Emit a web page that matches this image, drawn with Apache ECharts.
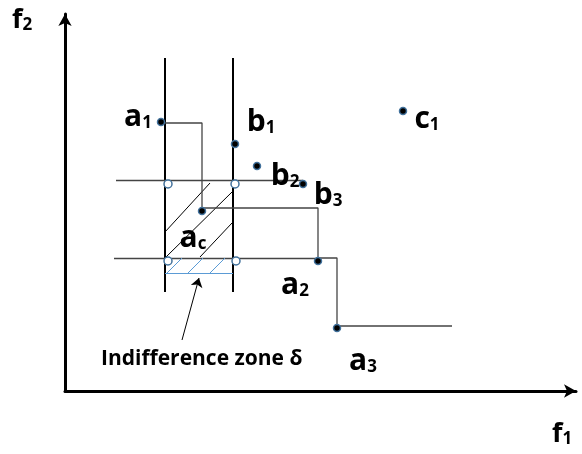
<!DOCTYPE html>
<html>
<head>
<meta charset="utf-8">
<script src="https://cdn.jsdelivr.net/npm/echarts@6/dist/echarts.min.js"></script>
<style>
  html, body { margin: 0; padding: 0; background: #fff; }
  #chart { width: 582px; height: 454px; }
</style>
</head>
<body>
<div id="chart"></div>
<script>
// values (f1 to the right, f2 upwards)
const pointNames = ['a1', 'b1', 'b2', 'b3', 'c1', 'ac', 'a2', 'a3'];
const pointF1 = [96, 170, 192, 238, 338, 137, 253, 272];
const pointF2 = [269, 247, 225, 207, 280, 180, 130, 63];

// corners of the indifference zone (open circles)
const cornerF1 = [103, 170, 103, 171];
const cornerF2 = [207, 207, 130, 130];

// staircase a1 -> ac -> a2 -> a3 -> tail
const stairF1 = [96, 137, 253, 272, 387];
const stairF2 = [268, 183, 133, 65, 65];

// segments [f1 start, f2 start, f1 end, f2 end]
const zoneEdges = [[100, 333, 100, 99], [168, 333, 168, 99]];
const guideLines = [[51, 211, 238, 211], [49, 133, 253, 133]];
const hatchBlack = [[100, 159, 145, 208], [101, 134, 167, 199], [135, 134, 167, 168]];
const hatchBlue = [[102, 118, 117, 133], [123, 118, 138, 133], [145, 118, 160, 133], [100, 118, 168, 118]];
const pointer = [[117, 51, 134, 113]];

// label placement (px offset of label from its point)
const labelOffset = {
  a1: [-23, -6], b1: [26, -23], b2: [28, 9], b3: [25, 10],
  c1: [24, 7], ac: [-9, 26], a2: [-23, 23], a3: [26, 32]
};

const FONT = '"Open Sans", Lato, sans-serif';

function toLines(segs) {
  return segs.map(s => ({ coords: [[s[0], s[1]], [s[2], s[3]]] }));
}

function labelText(name) {
  return '{m|' + name[0] + '}{s|' + name.slice(1) + '}';
}

let myChart = echarts.init(document.getElementById('chart'));

let axisRich = {
  m: { fontSize: 27, fontWeight: 'bold', fontFamily: FONT, color: '#000', lineHeight: 28, verticalAlign: 'bottom' },
  s: { fontSize: 17, fontWeight: 'bold', fontFamily: FONT, color: '#000', lineHeight: 14, verticalAlign: 'bottom' }
};

let option = {
  animation: false,
  grid: { left: 65, right: 6, top: 14, bottom: 63 },
  xAxis: {
    type: 'value', min: 0, max: 511,
    axisLine: { show: true, onZero: false, symbol: ['none', 'arrow'], symbolSize: [10, 12],
      lineStyle: { color: '#000', width: 3 } },
    axisTick: { show: false }, axisLabel: { show: false }, splitLine: { show: false }
  },
  yAxis: {
    type: 'value', min: 0, max: 377,
    axisLine: { show: true, onZero: false, symbol: ['none', 'arrow'], symbolSize: [10, 12],
      lineStyle: { color: '#000', width: 3 } },
    axisTick: { show: false }, axisLabel: { show: false }, splitLine: { show: false }
  },
  graphic: [
    { type: 'text', left: 12, top: 7, style: { rich: axisRich, text: '{m|f}{s|2}' } },
    { type: 'text', left: 552, top: 421, style: { rich: axisRich, text: '{m|f}{s|1}' } },
    {
      type: 'text', left: 101, top: 349,
      style: { text: 'Indifference zone δ', fontSize: 21, fontWeight: 'bold', fontFamily: FONT, fill: '#000' }
    }
  ],
  series: [
    {
      type: 'lines', coordinateSystem: 'cartesian2d', silent: true, z: 2,
      lineStyle: { color: '#000', width: 2, opacity: 1 },
      data: toLines(zoneEdges)
    },
    {
      type: 'lines', coordinateSystem: 'cartesian2d', silent: true, z: 2,
      lineStyle: { color: '#444', width: 1.3, opacity: 1 },
      data: toLines(guideLines)
    },
    {
      type: 'line', step: 'end', silent: true, z: 2, symbol: 'none',
      lineStyle: { color: '#444', width: 1.3 },
      data: stairF1.map((x, i) => [x, stairF2[i]])
    },
    {
      type: 'lines', coordinateSystem: 'cartesian2d', silent: true, z: 2,
      lineStyle: { color: '#000', width: 1, opacity: 1 },
      data: toLines(hatchBlack)
    },
    {
      type: 'lines', coordinateSystem: 'cartesian2d', silent: true, z: 2,
      lineStyle: { color: '#5b9bd5', width: 1, opacity: 1 },
      data: toLines(hatchBlue)
    },
    {
      type: 'lines', coordinateSystem: 'cartesian2d', silent: true, z: 2,
      symbol: ['none', 'arrow'], symbolSize: 9,
      lineStyle: { color: '#000', width: 1, opacity: 1 },
      data: toLines(pointer)
    },
    {
      type: 'scatter', silent: true, z: 5,
      symbol: 'circle', symbolSize: 8,
      itemStyle: { color: '#fff', borderColor: '#41719c', borderWidth: 1.5, opacity: 1 },
      data: cornerF1.map((x, i) => [x, cornerF2[i]])
    },
    {
      type: 'scatter', silent: true, z: 6,
      symbol: 'circle', symbolSize: 7,
      itemStyle: { color: '#000', borderColor: '#41719c', borderWidth: 1.5, opacity: 1 },
      data: pointNames.map((n, i) => ({
        name: n,
        value: [pointF1[i], pointF2[i]],
        label: { offset: labelOffset[n] }
      })),
      label: {
        show: true, position: 'inside', color: '#000',
        formatter: p => labelText(p.name),
        rich: {
          m: { fontSize: 30, fontWeight: 'bold', fontFamily: FONT, color: '#000', lineHeight: 32, verticalAlign: 'bottom' },
          s: { fontSize: 17, fontWeight: 'bold', fontFamily: FONT, color: '#000', lineHeight: 12, verticalAlign: 'bottom' }
        }
      }
    }
  ]
};
option && myChart.setOption(option);
</script>
</body>
</html>
